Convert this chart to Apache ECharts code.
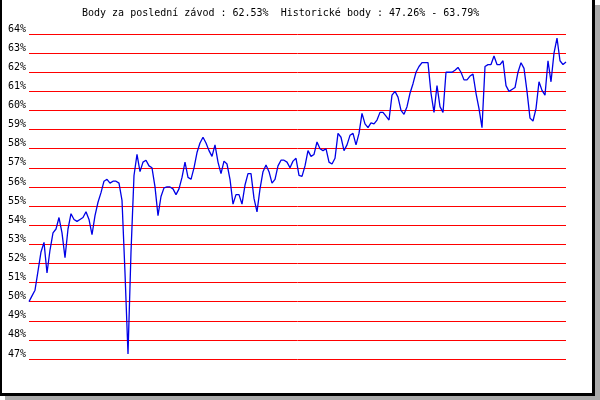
<!DOCTYPE html>
<html>
<head>
<meta charset="utf-8">
<script src="https://cdn.jsdelivr.net/npm/echarts@6/dist/echarts.min.js"></script>
<style>
  html, body { margin: 0; padding: 0; background: #fff; }
  #box1 { width: 600px; height: 400px; }
</style>
</head>
<body>
<div id="box1"></div>
<script>
// body za jednotlivé závody
var points = [
  50.0, 50.3, 50.6, 51.6, 52.6, 53.1, 51.5, 52.7, 53.6, 53.8,
  54.4, 53.6, 52.3, 53.8, 54.6, 54.3, 54.2, 54.3, 54.4, 54.7,
  54.3, 53.5, 54.5, 55.2, 55.7, 56.3, 56.4, 56.2, 56.3, 56.3,
  56.2, 55.3, 51.5, 47.26, 52.6, 56.6, 57.7, 56.8, 57.3, 57.4,
  57.1, 57.0, 56.0, 54.5, 55.5, 55.95, 56.0, 56.0, 55.9, 55.6,
  55.9, 56.5, 57.3, 56.5, 56.4, 57.0, 57.8, 58.3, 58.6, 58.3,
  57.9, 57.6, 58.2, 57.3, 56.7, 57.35, 57.2, 56.4, 55.1, 55.6,
  55.6, 55.1, 56.1, 56.7, 56.7, 55.4, 54.7, 55.9, 56.8, 57.15,
  56.8, 56.2, 56.4, 57.1, 57.4, 57.4, 57.3, 57.0, 57.35, 57.5,
  56.6, 56.55, 57.1, 57.9, 57.6, 57.7, 58.35, 58.0, 57.9, 58.0,
  57.3, 57.2, 57.5, 58.8, 58.6, 57.9, 58.2, 58.7, 58.8, 58.2,
  58.8, 59.85, 59.3, 59.1, 59.35, 59.3, 59.5, 59.9, 59.9, 59.7,
  59.5, 60.8, 61.0, 60.7, 60.0, 59.8, 60.2, 60.9, 61.4, 62.0,
  62.3, 62.5, 62.5, 62.5, 60.9, 59.9, 61.3, 60.2, 59.9, 62.0,
  62.0, 62.0, 62.1, 62.25, 62.0, 61.6, 61.6, 61.8, 61.9, 60.9,
  60.1, 59.1, 62.3, 62.4, 62.4, 62.85, 62.4, 62.4, 62.6, 61.3,
  61.0, 61.1, 61.2, 62.0, 62.5, 62.2, 61.0, 59.6, 59.45, 60.1,
  61.5, 61.05, 60.8, 62.6, 61.5, 63.0, 63.79, 62.6, 62.4, 62.53
];
var races = points.map(function(v, i) { return String(i + 1); });
var lastValue = '62.53';
var minValue = '47.26';
var maxValue = '63.79';
var yMin = 47;
var yMax = 64;

var chart = echarts.init(document.getElementById('box1'));

var option = {
  animation: false,
  backgroundColor: '#fff',
  title: {
    text: 'Body za poslední závod : ' + lastValue + '%  Historické body : ' + minValue + '% - ' + maxValue + '%',
    left: 77,
    top: 3,
    textStyle: {
      fontFamily: 'DejaVu Sans Mono',
      fontSize: 10,
      fontWeight: 'normal',
      color: '#000'
    }
  },
  graphic: [
    // stín rámečku
    { type: 'rect', shape: { x: 595, y: 5, width: 5, height: 395 }, style: { fill: '#aaa' } },
    { type: 'rect', shape: { x: 5, y: 396, width: 595, height: 4 }, style: { fill: '#aaa' } },
    // rámeček
    { type: 'rect', shape: { x: 0, y: 0, width: 2, height: 396 }, style: { fill: '#000' } },
    { type: 'rect', shape: { x: 592, y: 0, width: 3, height: 396 }, style: { fill: '#000' } },
    { type: 'rect', shape: { x: 0, y: 393, width: 595, height: 3 }, style: { fill: '#000' } }
  ],
  grid: {
    left: 29,
    right: 34,
    top: 34,
    bottom: 41
  },
  xAxis: {
    type: 'category',
    data: races,
    boundaryGap: false,
    axisLine: { show: false },
    axisTick: { show: false },
    axisLabel: { show: false },
    splitLine: { show: false }
  },
  yAxis: {
    type: 'value',
    min: yMin,
    max: yMax,
    interval: 1,
    axisLine: { show: false },
    axisTick: { show: false },
    axisLabel: {
      formatter: '{value}%',
      fontFamily: 'DejaVu Sans Mono',
      fontSize: 10,
      color: '#000',
      margin: 3,
      verticalAlign: 'bottom'
    },
    splitLine: {
      show: true,
      lineStyle: { color: '#ff0000', width: 1 }
    }
  },
  series: [{
    type: 'line',
    data: points,
    symbol: 'none',
    lineStyle: { color: '#0000e6', width: 1.3 }
  }]
};

chart.setOption(option);
</script>
</body>
</html>
